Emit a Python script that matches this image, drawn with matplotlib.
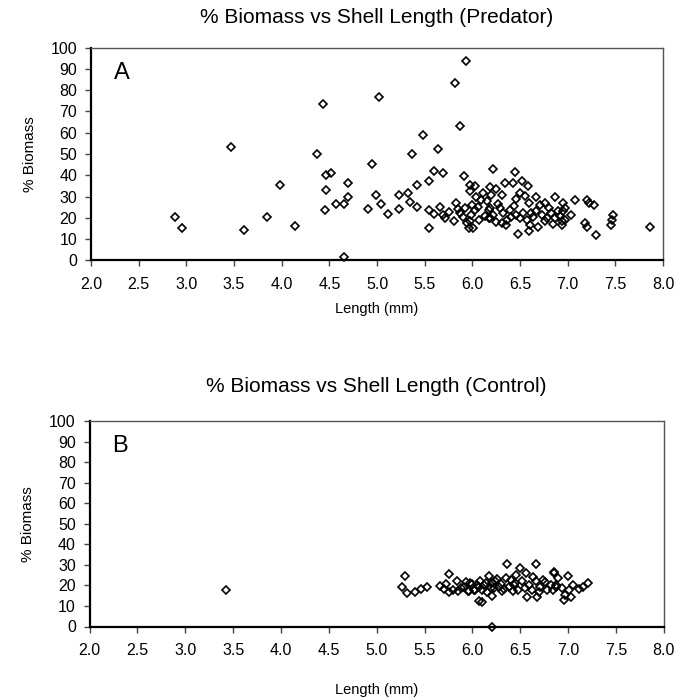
import matplotlib.pyplot as plt

plt.rcParams['font.family'] = ['Liberation Sans', 'DejaVu Sans']

# Predator panel (A): shell length (mm) and % biomass
pred_len = [2.88, 2.95, 3.47, 3.60, 3.85, 3.98, 4.14,
            4.37, 4.43, 4.46, 4.52, 4.46, 4.45, 4.57, 4.65, 4.70, 4.70, 4.65,
            4.90, 4.95, 5.02, 4.99, 5.04, 5.12, 5.23, 5.23, 5.33, 5.35, 5.42,
            5.37, 5.48, 5.42, 5.55, 5.60, 5.64, 5.69, 5.55, 5.55, 5.60, 5.66,
            5.69, 5.75, 5.71, 5.82, 5.93, 5.87, 5.91, 5.97, 6.03, 5.97, 6.22,
            5.83, 5.85, 5.87, 5.81, 5.90, 5.94, 5.96, 6.01, 5.99, 6.03, 6.06,
            6.09, 6.04, 6.07, 6.11, 6.15, 6.17, 6.18, 5.92, 5.98, 6.00, 6.13,
            6.45, 6.34, 6.43, 6.52, 6.58, 6.18, 6.25, 6.31, 6.20, 6.50, 6.55,
            6.67, 6.87, 6.46, 6.76, 6.59, 6.71, 6.95,
            6.18, 6.22, 6.17, 6.29, 6.32, 6.39, 6.41, 6.36, 6.31, 6.46, 6.50,
            6.53, 6.57, 6.60, 6.59, 6.48, 6.69, 6.64, 6.67, 6.73, 6.76, 6.80,
            6.83, 6.87, 6.90, 6.94, 6.97, 6.25, 6.27, 6.35, 6.44, 6.62, 6.78,
            6.85, 6.92,
            7.08, 7.20, 7.22, 7.28, 7.03, 6.95, 6.97, 6.94, 7.18, 7.20, 7.30,
            7.45, 7.46, 7.48, 7.86]
pred_biomass = [20.3, 15.3, 53.3, 14.4, 20.3, 35.5, 16.2,
                50.0, 73.5, 40.3, 41.0, 33.2, 23.5, 26.6, 26.6, 36.3, 30.0, 1.6,
                24.2, 45.3, 76.7, 30.7, 26.7, 21.9, 30.8, 24.2, 31.6, 27.4, 25.2,
                50.0, 58.9, 35.5, 37.1, 42.1, 52.5, 41.0, 23.5, 15.3, 21.9, 25.2,
                21.1, 22.7, 19.9, 83.2, 93.6, 63.0, 39.5, 35.5, 34.8, 32.4, 42.9,
                26.9, 24.1, 22.2, 18.6, 20.6, 17.8, 15.4, 15.1, 21.4, 23.8, 25.3,
                28.5, 30.0, 19.1, 31.6, 27.7, 23.8, 19.9, 24.5, 18.5, 26.0, 20.8,
                41.5, 36.3, 36.3, 37.1, 35.1, 34.7, 33.5, 30.8, 30.8, 31.6, 30.4,
                30.0, 30.0, 28.8, 27.2, 26.9, 26.1, 26.9,
                24.6, 21.4, 19.9, 24.6, 22.2, 23.8, 20.6, 19.1, 17.8, 21.4, 19.9,
                22.2, 19.1, 16.7, 13.9, 12.3, 15.9, 20.6, 23.0, 21.4, 18.3, 24.6,
                22.2, 19.9, 23.0, 18.3, 24.6, 18.0, 26.5, 16.5, 25.5, 22.5, 20.0,
                17.0, 21.0,
                28.2, 28.2, 27.2, 25.8, 21.4, 23.0, 19.1, 16.7, 17.5, 15.6, 12.0,
                16.7, 19.1, 21.4, 15.9]

# Control panel (B)
ctrl_len = [3.42, 6.21,
            5.30, 5.26, 5.32, 5.40, 5.46, 5.53, 5.66, 5.70, 5.76, 5.76, 5.84,
            5.85, 5.91, 5.98, 5.96, 6.03, 6.05, 6.07,
            6.36, 6.67, 6.10, 6.50, 6.56, 6.46, 6.85, 6.35, 6.21, 6.57, 6.68,
            6.07, 6.14, 6.19, 6.24, 6.28, 6.31, 6.38, 6.42, 6.45, 6.48, 6.52,
            6.59, 6.62, 6.66, 6.71, 6.74, 6.78, 6.82, 6.87, 6.17, 6.10,
            5.88, 5.93, 5.95, 6.00, 6.02, 6.08, 6.12, 6.15, 6.20, 6.23, 6.26,
            6.30, 6.33, 6.40, 6.44, 6.55, 6.63, 6.70, 6.76, 5.80, 5.72,
            6.85, 7.00, 6.87, 6.84, 6.94, 6.97, 6.96, 7.03, 7.05, 7.01, 7.11,
            7.16, 7.21, 6.90]
ctrl_biomass = [17.8, 0.0,
                24.7, 19.2, 16.3, 16.6, 18.2, 19.2, 19.9, 18.2, 16.6, 25.6, 22.0,
                17.1, 19.5, 21.2, 17.1, 17.9, 20.3, 12.2,
                30.6, 30.6, 11.9, 28.5, 26.0, 25.2, 26.0, 23.6, 15.1, 14.6, 14.6,
                19.5, 21.2, 18.7, 22.0, 19.5, 17.1, 19.5, 17.1, 21.2, 17.9, 22.0,
                20.3, 17.9, 22.0, 19.5, 22.8, 17.9, 20.3, 19.5, 24.4, 17.9,
                19.0, 21.5, 17.5, 20.5, 18.0, 22.0, 20.0, 17.0, 21.0, 19.0, 23.0,
                20.5, 18.5, 22.5, 20.0, 19.0, 24.0, 17.0, 21.5, 18.0, 20.5,
                26.5, 24.4, 20.3, 17.9, 18.7, 15.5, 12.7, 14.6, 20.3, 17.9, 18.2,
                19.5, 21.2, 23.6]

# title, letter, x, y, axes rect, title pad, x-label pad
panels = [
    ('% Biomass vs Shell Length (Predator)', 'A', pred_len, pred_biomass,
     [0.131, 0.628, 0.823, 0.304], 18, 7),
    ('% Biomass vs Shell Length (Control)', 'B', ctrl_len, ctrl_biomass,
     [0.129, 0.105, 0.826, 0.293], 21, 18),
]

fig = plt.figure(figsize=(6.95, 7.0), dpi=100)

for title, letter, xs, ys, rect, tpad, xlpad in panels:
    ax = fig.add_axes(rect)
    ax.plot(xs, ys, linestyle='none', marker='D', markersize=4.4,
            markerfacecolor='none', markeredgecolor='black',
            markeredgewidth=1.2, clip_on=False)
    ax.set_xlim(2.0, 8.0)
    ax.set_ylim(0, 100)
    ax.set_xticks([2.0 + 0.5 * i for i in range(13)])
    ax.set_xticklabels(['%.1f' % (2.0 + 0.5 * i) for i in range(13)])
    ax.set_yticks(range(0, 101, 10))
    ax.tick_params(direction='out', length=4, width=1, labelsize=11.5,
                   color='#444444')
    ax.tick_params(axis='x', pad=8)
    ax.tick_params(axis='y', pad=6)
    for side in ['left', 'bottom']:
        ax.spines[side].set_linewidth(1.6)
        ax.spines[side].set_color('black')
    for side in ['top', 'right']:
        ax.spines[side].set_linewidth(1.0)
        ax.spines[side].set_color('#555555')
    ax.set_title(title, fontsize=15, pad=tpad)
    ax.set_xlabel('Length (mm)', fontsize=10.5, labelpad=xlpad)
    ax.set_ylabel('% Biomass', fontsize=11, labelpad=10)
    ax.text(0.04, 0.88, letter, transform=ax.transAxes, fontsize=17,
            va='center', ha='left')

plt.savefig('out.png', dpi=100)
